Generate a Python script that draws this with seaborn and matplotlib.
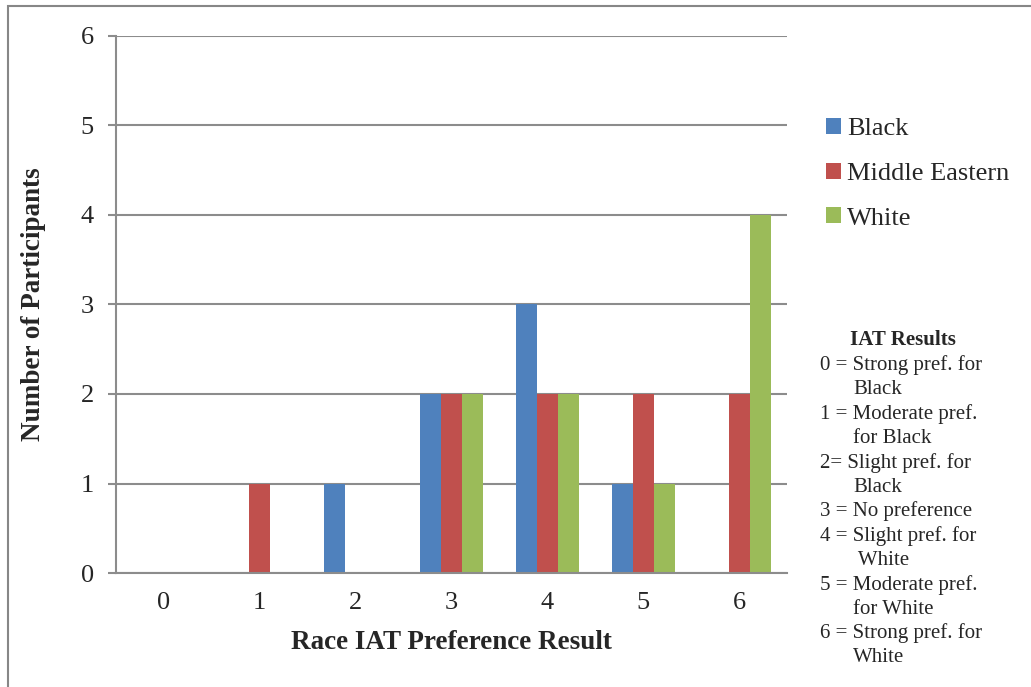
import matplotlib
matplotlib.use("Agg")
import matplotlib.pyplot as plt
import matplotlib.patches as mpatches
import seaborn as sns
import pandas as pd

categories = ["0", "1", "2", "3", "4", "5", "6"]
black = [0, 0, 1, 2, 3, 1, 0]
middle_eastern = [0, 1, 0, 2, 2, 2, 2]
white = [0, 0, 0, 2, 2, 1, 4]
series_names = ["Black", "Middle Eastern", "White"]
colors = ["#4F81BD", "#C0504D", "#9BBB59"]
y_ticks = [0, 1, 2, 3, 4, 5, 6]
note_title = "IAT Results"
note_lines = [
    "0 = Strong pref. for", "Black",
    "1 = Moderate pref.", "for Black",
    "2= Slight pref. for", "Black",
    "3 = No preference",
    "4 = Slight pref. for", " White",
    "5 = Moderate pref.", "for White",
    "6 = Strong pref. for", "White",
]

rows = []
for name, vals in zip(series_names, [black, middle_eastern, white]):
    for c, v in zip(categories, vals):
        rows.append({"cat": c, "series": name, "value": v})
df = pd.DataFrame(rows)

sns.set_theme(style="white")
plt.rcParams["font.family"] = ["Liberation Serif", "DejaVu Serif"]

W, H = 1031, 687
fig = plt.figure(figsize=(W / 100, H / 100), dpi=100)
ax = fig.add_axes([116 / W, 1 - 573 / H, (787 - 116) / W, (573 - 36) / H])

sns.barplot(data=df, x="cat", y="value", hue="series", order=categories,
            hue_order=series_names, palette=colors, width=0.66, gap=0,
            linewidth=0, saturation=1, ax=ax, legend=True)

grid_c = "#8C8C8C"
ax.set_ylim(0, 6)
ax.set_xlim(-0.5, 6.5)
ax.set_yticks(y_ticks)
ax.set_yticklabels([str(t) for t in y_ticks], fontsize=19)
ax.set_xticks(range(len(categories)))
ax.set_xticklabels(categories, fontsize=19)
ax.yaxis.grid(True, color=grid_c, linewidth=1.5)
ax.set_axisbelow(True)
for s in ["top", "right"]:
    ax.spines[s].set_visible(False)
ax.spines["left"].set_color(grid_c)
ax.spines["left"].set_linewidth(1.5)
ax.spines["bottom"].set_color(grid_c)
ax.spines["bottom"].set_linewidth(1.5)
ax.tick_params(axis="y", length=6, width=1.5, color=grid_c, pad=10, left=True)
ax.tick_params(axis="x", length=0, pad=14)
ax.set_xlabel("Race IAT Preference Result", fontsize=19.5, fontweight="bold", labelpad=11)
ax.set_ylabel("Number of Participants", fontsize=19.5, fontweight="bold", labelpad=25)

leg = ax.get_legend()
handles = leg.legend_handles
leg.remove()
fig.legend(handles, series_names, loc="upper left",
           bbox_to_anchor=(826 / W, 1 - 118 / H), frameon=False,
           fontsize=19, handlelength=0.55, handleheight=0.55,
           handletextpad=0.25, labelspacing=0.85, borderaxespad=0,
           borderpad=0)

fig.text(903 / W, 1 - 340 / H, note_title, fontsize=15, fontweight="bold",
         ha="center", va="center")
y0 = 365
for i, line in enumerate(note_lines):
    yy = 1 - (y0 + i * 24.4) / H
    x = 820 if "=" in line else 853
    fig.text(x / W, yy, line, fontsize=15, ha="left", va="center")

rect = mpatches.Rectangle((8 / W, -0.05), 1.2, 1 - 6 / H + 0.05,
                          transform=fig.transFigure, fill=False,
                          edgecolor="#878787", linewidth=1.5, clip_on=False)
fig.patches.append(rect)

fig.savefig("out.png", dpi=100, facecolor="white")
